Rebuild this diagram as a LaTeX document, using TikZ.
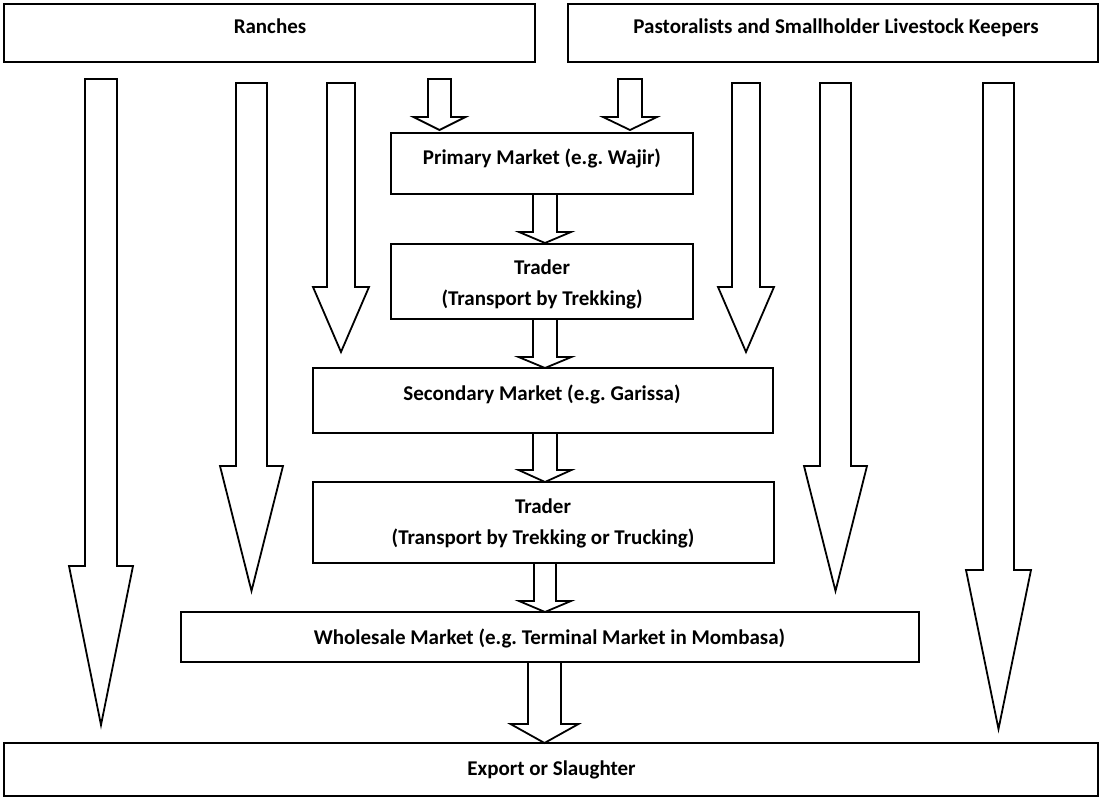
\documentclass[tikz,border=0pt]{standalone}
\usepackage{fontspec}
\setmainfont{Carlito}
\frenchspacing
\begin{document}
\begin{tikzpicture}[x=1pt,y=-1pt,
  box/.style={draw=black,line width=2pt,fill=white},
  outerbox/.style={draw=black,line width=2.6pt,fill=white},
  blockarrow/.style={draw=black,line width=1.8pt,fill=white,line join=miter},
  lbl/.style={font=\fontsize{21}{31}\selectfont\bfseries,anchor=base,inner sep=0pt}]
\useasboundingbox (0,0) rectangle (1101,799);
\newcommand\blockarr[6]{% cx, ytop, ywing, ytip, shaft half, head half
  \draw[blockarrow] (#1-#5,#2) -- (#1+#5,#2) -- (#1+#5,#3) -- (#1+#6,#3) -- (#1,#4) -- (#1-#6,#3) -- (#1-#5,#3) -- cycle;}
% boxes
\draw[outerbox] (4,4) rectangle (535,62);
\node (ranches) at (269.5,33) {};
\draw[outerbox] (568,4) rectangle (1098,62);
\node (past) at (833,33) {};
\draw[box] (391,133) rectangle (693,194);
\node (primary) at (542,163.5) {};
\draw[box] (391,244) rectangle (693,319);
\node (trader1) at (542,281.5) {};
\draw[box] (313,368) rectangle (773,433);
\node (secondary) at (543,400.5) {};
\draw[box] (313,482) rectangle (774,563);
\node (trader2) at (543.5,522.5) {};
\draw[box] (181,612) rectangle (919,662);
\node (wholesale) at (550,637) {};
\draw[outerbox] (4,743) rectangle (1098,796);
\node (export) at (551,770) {};
% labels
\node[lbl] (tRanches) at (270,34) {Ranches};
\node[lbl] (tPast) at (836,34) {Pastoralists and Smallholder Livestock Keepers};
\node[lbl] (tPrimary) at (542,165) {Primary Market (e.g. Wajir)};
\node[lbl] (tTrader1a) at (542,275) {Trader};
\node[lbl] (tTrader1b) at (542,306) {(Transport by Trekking)};
\node[lbl] (tSecondary) at (542,401) {Secondary Market (e.g. Garissa)};
\node[lbl] (tTrader2a) at (543,513) {Trader};
\node[lbl] (tTrader2b) at (543,544) {(Transport by Trekking or Trucking)};
\node[lbl] (tWholesale) at (549.5,644) {Wholesale Market (e.g. Terminal Market in Mombasa)};
\node[lbl] (tExport) at (551.5,775) {Export or Slaughter};
% small arrows
\blockarr{439.5}{79}{117}{130}{11.5}{26}
\blockarr{630}{79}{117}{130}{12}{27}
\blockarr{545}{194}{232}{243}{12}{26}
\blockarr{545}{319}{357}{368}{12}{26.5}
\blockarr{545}{433}{470}{482}{12}{26.5}
\blockarr{545}{563}{601}{612}{11}{26}
\blockarr{544.5}{662}{724}{743}{16.5}{34}
% long arrows
\blockarr{101}{79}{566}{725}{16}{32}
\blockarr{251.5}{83}{466}{591}{15.5}{31.5}
\blockarr{341}{83}{287}{352}{14}{28}
\blockarr{746}{83}{287}{352}{14}{28}
\blockarr{835.5}{83}{466}{591}{15.5}{31.5}
\blockarr{998.5}{83}{570}{729}{15.5}{32.5}
\end{tikzpicture}
\end{document}
